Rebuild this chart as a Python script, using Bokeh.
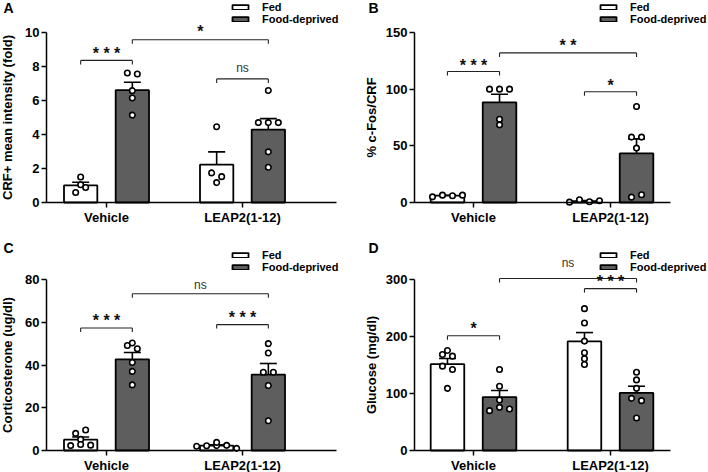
import numpy as np
from bokeh.plotting import figure
from bokeh.models import Range1d, FixedTicker, Legend, LegendItem, Label
from bokeh.layouts import column, row
from bokeh.embed import file_html
from bokeh.resources import INLINE
from bokeh.core.properties import value

categories = ["Vehicle", "LEAP2(1-12)"]
series_names = ["Fed", "Food-deprived"]

# Panel A - CRF+ mean intensity (fold)
A_vehicle_fed = [1.04, 1.50, 0.59, 0.88]
A_vehicle_fd = [7.62, 7.56, 6.58, 6.15, 5.14]
A_leap_fed = [4.46, 1.74, 1.52, 1.17]
A_leap_fd = [6.59, 4.70, 4.70, 4.70, 2.98, 2.07]
A_yticks = [0, 2, 4, 6, 8, 10]
A_ylabel = "CRF+ mean intensity (fold)"
# brackets: (category a, series a, category b, series b, bracket level, label level, text)
A_brackets = [(0, 0, 0, 1, 8.36, 9.0, "***"),
              (0, 1, 1, 1, 9.57, 10.25, "*"),
              (1, 0, 1, 1, 7.27, 8.0, "ns")]

# Panel B - % c-Fos/CRF
B_vehicle_fed = [5.0, 6.5, 6.0, 6.5]
B_vehicle_fd = [100.0, 100.0, 100.0, 73.5, 68.5]
B_leap_fed = [0.3, 2.4, 0.6, 1.5]
B_leap_fd = [84.7, 57.7, 57.7, 48.0, 4.7, 6.8]
B_yticks = [0, 50, 100, 150]
B_ylabel = "% c-Fos/CRF"
B_brackets = [(0, 0, 0, 1, 115.6, 124.2, "***"),
              (0, 1, 1, 1, 132.0, 141.2, "**"),
              (1, 0, 1, 1, 97.7, 106.5, "*")]

# Panel C - Corticosterone (ug/dl)
C_vehicle_fed = [8.0, 9.6, 5.2, 2.3, 2.8, 2.5]
C_vehicle_fd = [49.1, 50.3, 47.6, 41.2, 37.0, 30.7]
C_leap_fed = [2.0, 2.2, 2.3, 2.4, 1.0, 3.8]
C_leap_fd = [50.0, 45.6, 36.6, 36.6, 30.4, 13.9]
C_yticks = [0, 20, 40, 60, 80]
C_ylabel = "Corticosterone (ug/dl)"
C_brackets = [(0, 0, 0, 1, 57.3, 62.3, "***"),
              (0, 1, 1, 1, 73.3, 78.0, "ns"),
              (1, 0, 1, 1, 58.9, 64.0, "***")]

# Panel D - Glucose (mg/dl)
D_vehicle_fed = [168.5, 175.5, 165.5, 148.0, 142.0, 109.0]
D_vehicle_fd = [142.0, 112.7, 88.7, 69.9, 75.7, 72.9]
D_leap_fed = [248.9, 223.6, 191.9, 171.5, 160.9, 150.9]
D_leap_fd = [137.3, 123.9, 109.0, 91.5, 87.5, 57.0]
D_yticks = [0, 100, 200, 300]
D_ylabel = "Glucose (mg/dl)"
D_brackets = [(0, 0, 0, 1, 201.4, 220.8, "*"),
              (0, 1, 1, 1, 301.7, 332.0, "ns"),
              (1, 0, 1, 1, 284.0, 302.8, "***")]

FONT = "Liberation Sans"
FD_COLOR = "#5e5e5e"
W, H = 354, 236


def swarm_offsets(vals, ppy, dx, thresh_px=5.0):
    order = sorted(range(len(vals)), key=lambda i: vals[i])
    rows = []
    for i in order:
        if rows and (vals[i] - vals[rows[-1][0]]) * ppy < thresh_px:
            rows[-1].append(i)
        else:
            rows.append([i])
    offs = [0.0] * len(vals)
    for r in rows:
        rs = sorted(r)
        n = len(rs)
        for k, i in enumerate(rs):
            offs[i] = (k - (n - 1) / 2.0) * dx
    return offs


def make_panel(letter, groups, yticks, ylabel, brackets, left, top, ylabel_standoff):
    ymax = yticks[-1]
    # layout in canvas pixels (frame covers the whole canvas)
    if left:
        axis_l, cat0, axis_r, ppx = 46.0, 106.0, 336.0, 136.0
        legend_x, letter_x = 230, 3
    else:
        axis_l, cat0, axis_r, ppx = 60.0, 119.0, 316.0, 137.0
        legend_x, letter_x = 244, 14
    if top:
        axis_top, axis_bot = 32.0, 202.0
        legend_y, letter_y = 211.5, H - 7.5
    else:
        axis_top, axis_bot = 43.0, 214.0
        legend_y, letter_y = 199.0, H - 11.7
    ppy = (axis_bot - axis_top) / ymax
    x0 = -cat0 / ppx
    x1 = (W - cat0) / ppx
    y0 = -(H - axis_bot) / ppy
    y1 = axis_bot / ppy

    p = figure(width=W, height=H, x_range=Range1d(x0, x1), y_range=Range1d(y0, y1),
               min_border=0, min_border_left=0, min_border_right=0, min_border_top=0,
               min_border_bottom=0, output_backend="svg", toolbar_location=None)
    p.xgrid.visible = False
    p.ygrid.visible = False
    p.outline_line_color = None
    p.background_fill_color = "white"
    p.border_fill_color = "white"

    offsets = [-0.19, 0.19]
    bw = 0.245
    fills = ["white", FD_COLOR]
    bar_rs = []
    for s in range(2):
        xs = [c + offsets[s] for c in range(2)]
        means = [float(np.mean(groups[c][s])) for c in range(2)]
        r = p.vbar(x=xs, top=means, bottom=0, width=bw, fill_color=fills[s],
                   line_color="black", line_width=1.8)
        bar_rs.append(r)

    # error bars (SEM, upward)
    cap = 8.5 / ppx
    ex0, ey0, ex1, ey1 = [], [], [], []
    for c in range(2):
        for s in range(2):
            v = np.array(groups[c][s], dtype=float)
            m = v.mean()
            se = v.std(ddof=1) / np.sqrt(len(v))
            xc = c + offsets[s]
            ex0 += [xc, xc - cap]
            ey0 += [m, m + se]
            ex1 += [xc, xc + cap]
            ey1 += [m + se, m + se]
    p.segment(x0=ex0, y0=ey0, x1=ex1, y1=ey1, line_color="black", line_width=1.6)

    # individual points
    px, py = [], []
    for c in range(2):
        for s in range(2):
            vals = groups[c][s]
            offs = swarm_offsets(vals, ppy, 10.0 / ppx)
            for v, o in zip(vals, offs):
                px.append(c + offsets[s] + o)
                py.append(v)
    p.scatter(x=px, y=py, marker="circle", size=5.5, fill_color="white",
              line_color="black", line_width=1.6)

    # significance brackets
    tl = 4.0 / ppy
    bx0, by0, bx1, by1 = [], [], [], []
    star_x, star_y, star_t = [], [], []
    ns_x, ns_y = [], []
    for (ca, sa, cb, sb, lvl, tlvl, txt) in brackets:
        xa = ca + offsets[sa]
        xb = cb + offsets[sb]
        bx0 += [xa, xa, xb]
        by0 += [lvl, lvl, lvl]
        bx1 += [xb, xa, xb]
        by1 += [lvl, lvl - tl, lvl - tl]
        if txt == "ns":
            ns_x.append((xa + xb) / 2)
            ns_y.append(tlvl)
        else:
            star_x.append((xa + xb) / 2)
            star_y.append(tlvl)
            star_t.append(" ".join(txt))
    p.segment(x0=bx0, y0=by0, x1=bx1, y1=by1, line_color="#222222", line_width=1.1)
    if star_x:
        p.text(x=star_x, y=star_y, text=star_t, text_font=value(FONT), text_font_size="16px",
               text_font_style="bold", text_align="center", text_baseline="alphabetic",
               y_offset=3.5, text_color="#111111")
    if ns_x:
        p.text(x=ns_x, y=ns_y, text=["ns"] * len(ns_x), text_font=value(FONT),
               text_font_size="12px", text_align="center", text_baseline="alphabetic",
               y_offset=1.5, text_color="#333333")

    # axes, fixed inside the full-canvas frame
    xa_ = p.xaxis[0]
    xa_.fixed_location = 0
    xa_.bounds = ((axis_l - cat0) / ppx, (axis_r - cat0) / ppx)
    xa_.ticker = FixedTicker(ticks=[0, 1])
    xa_.major_label_overrides = {0: categories[0], 1: categories[1]}
    xa_.minor_tick_line_color = None
    xa_.major_tick_out = 5
    xa_.major_tick_in = 0
    xa_.major_label_standoff = 2
    xa_.axis_line_width = 1.5
    xa_.major_tick_line_width = 1.5
    xa_.major_label_text_font = FONT
    xa_.major_label_text_font_size = "13px"
    xa_.major_label_text_font_style = "bold"
    xa_.major_label_text_color = "black"

    ya_ = p.yaxis[0]
    ya_.fixed_location = (axis_l - cat0) / ppx
    ya_.ticker = FixedTicker(ticks=yticks)
    ya_.bounds = (0, ymax)
    ya_.minor_tick_line_color = None
    ya_.major_tick_out = 5
    ya_.major_tick_in = 0
    ya_.major_label_standoff = 2
    ya_.axis_line_width = 1.5
    ya_.major_tick_line_width = 1.5
    ya_.major_label_text_font = FONT
    ya_.major_label_text_font_size = "13px"
    ya_.major_label_text_font_style = "bold"
    ya_.major_label_text_color = "black"
    ya_.axis_label = ylabel
    ya_.axis_label_text_font = FONT
    ya_.axis_label_text_font_size = "13px"
    ya_.axis_label_text_font_style = "bold"
    ya_.axis_label_text_color = "black"
    ya_.axis_label_standoff = ylabel_standoff

    leg = Legend(items=[LegendItem(label=series_names[0], renderers=[bar_rs[0]]),
                        LegendItem(label=series_names[1], renderers=[bar_rs[1]])],
                 location=(legend_x, legend_y), orientation="vertical",
                 glyph_width=20, glyph_height=6, label_height=12, spacing=0,
                 padding=0, margin=0, label_standoff=12,
                 border_line_color=None, background_fill_alpha=0,
                 label_text_font=FONT, label_text_font_size="11px",
                 label_text_font_style="bold", label_text_color="black")
    p.add_layout(leg)

    p.add_layout(Label(x=letter_x, y=letter_y, x_units="screen", y_units="screen", text=letter,
                       text_font=FONT, text_font_size="14px", text_font_style="bold",
                       text_baseline="middle", text_align="left", text_color="black"))
    return p


pA = make_panel("A", [[A_vehicle_fed, A_vehicle_fd], [A_leap_fed, A_leap_fd]],
                A_yticks, A_ylabel, A_brackets, True, True, 7)
pB = make_panel("B", [[B_vehicle_fed, B_vehicle_fd], [B_leap_fed, B_leap_fd]],
                B_yticks, B_ylabel, B_brackets, False, True, 4)
pC = make_panel("C", [[C_vehicle_fed, C_vehicle_fd], [C_leap_fed, C_leap_fd]],
                C_yticks, C_ylabel, C_brackets, True, False, 7)
pD = make_panel("D", [[D_vehicle_fed, D_vehicle_fd], [D_leap_fed, D_leap_fd]],
                D_yticks, D_ylabel, D_brackets, False, False, 4)

layout = column(row(pA, pB), row(pC, pD))
open("out.html", "w").write(file_html(layout, INLINE))
